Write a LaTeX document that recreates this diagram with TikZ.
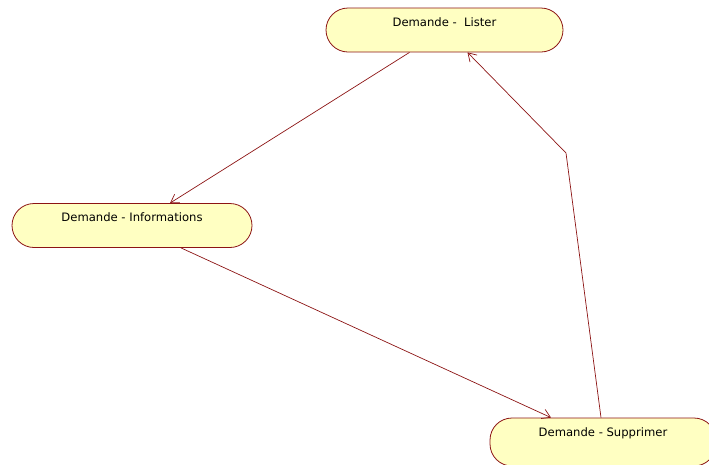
\documentclass[tikz,border=0pt]{standalone}
\usepackage{fontspec}
\setmainfont{DejaVu Sans}
\usetikzlibrary{arrows.meta}
\definecolor{usecasefill}{RGB}{255,255,194}
\definecolor{usecaseline}{RGB}{140,20,20}
\tikzset{
  usecase/.style={draw=usecaseline, fill=usecasefill, line width=0.8pt, rectangle, rounded corners=22pt,
    minimum height=44pt, inner xsep=0pt, inner ysep=0pt, text height=18pt, text depth=26pt,
    font=\fontsize{11.6}{14}\selectfont},
  flow/.style={draw=usecaseline, line width=0.7pt, -{Straight Barb[length=8pt,width=10pt]}}
}
\begin{document}
\begin{tikzpicture}[x=1pt, y=-1pt]
\path [use as bounding box, clip] (0,0) rectangle (709,464);
\node (lister) at (444.5,30) [usecase, minimum width=237pt] {Demande - \ Lister};
\node (infos) at (132,225.5) [usecase, minimum width=240pt] {Demande - Informations};
\node (suppr) at (603,442) [usecase, minimum width=226pt, text depth=30pt] {Demande - Supprimer};
\coordinate (bend) at (566,153);
\draw [flow] ([xshift=-35pt]lister.south) -- ([xshift=38pt]infos.north);
\draw [flow] ([xshift=49pt]infos.south) -- ([xshift=-52pt]suppr.north);
\draw [flow] ([xshift=-2pt]suppr.north) -- (bend) -- ([xshift=23pt]lister.south);
\end{tikzpicture}
\end{document}
